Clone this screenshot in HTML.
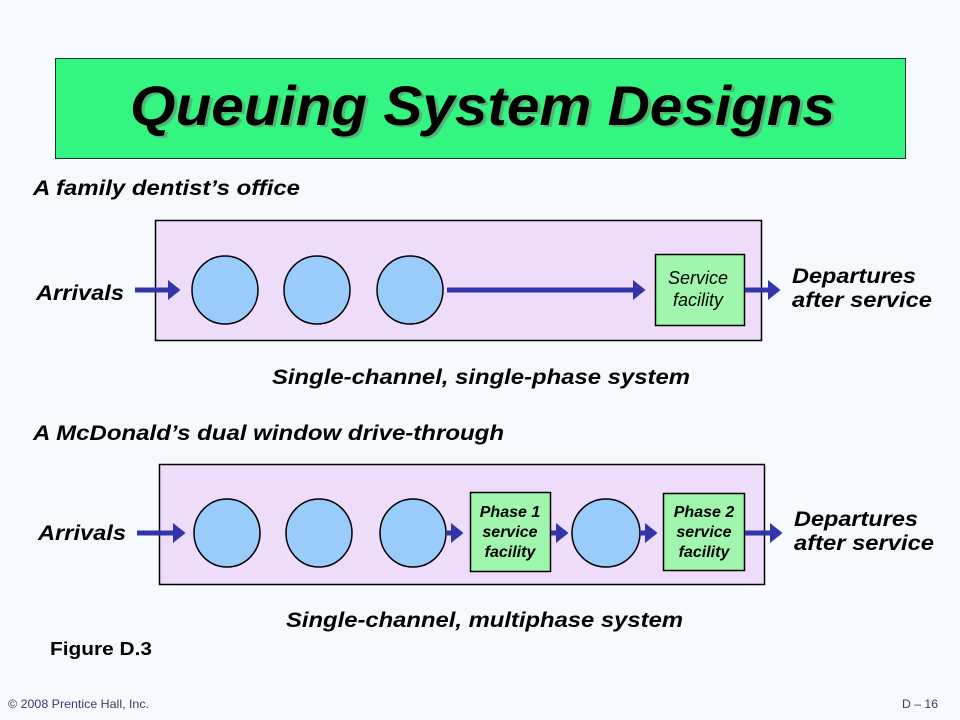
<!DOCTYPE html>
<html><head><meta charset="utf-8"><style>
html,body{margin:0;padding:0;background:#f6f9fd;}
svg{display:block;}
text{font-family:"Liberation Sans",Arial,sans-serif;font-weight:bold;font-style:italic;}
text.n{font-weight:normal;}
text.f{font-weight:normal;font-style:normal;}
</style></head><body>
<svg width="960" height="720" viewBox="0 0 960 720" xmlns="http://www.w3.org/2000/svg">
<defs>
<marker id="ah" markerWidth="4" markerHeight="4" refX="2" refY="2" orient="auto" markerUnits="strokeWidth">
<path d="M0,0 L2.5,2 L0,4 z" fill="#3333aa"/></marker>
</defs>
<rect x="0" y="0" width="960" height="720" fill="#f6f9fd"/>
<rect x="55.5" y="58.5" width="850" height="100" fill="#33f581" stroke="#1a3a1a" stroke-width="1"/>
<text x="133" y="127" font-size="56" textLength="705" lengthAdjust="spacingAndGlyphs" fill="#6a8a6a" opacity="0.6">Queuing System Designs</text>
<text x="130" y="125" font-size="56" textLength="705" lengthAdjust="spacingAndGlyphs" fill="#000">Queuing System Designs</text>

<g fill="#000" font-size="21">
<text x="33" y="195" textLength="267" lengthAdjust="spacingAndGlyphs">A family dentist’s office</text>
<text x="36" y="300" textLength="88" lengthAdjust="spacingAndGlyphs">Arrivals</text>
<text x="792" y="283" textLength="124" lengthAdjust="spacingAndGlyphs">Departures</text>
<text x="792" y="307" textLength="140" lengthAdjust="spacingAndGlyphs">after service</text>
<text x="272" y="384" textLength="418" lengthAdjust="spacingAndGlyphs">Single-channel, single-phase system</text>
<text x="33" y="440" textLength="471" lengthAdjust="spacingAndGlyphs">A McDonald’s dual window drive-through</text>
<text x="38" y="540" textLength="88" lengthAdjust="spacingAndGlyphs">Arrivals</text>
<text x="794" y="526" textLength="124" lengthAdjust="spacingAndGlyphs">Departures</text>
<text x="794" y="550" textLength="140" lengthAdjust="spacingAndGlyphs">after service</text>
<text x="286" y="627" textLength="397" lengthAdjust="spacingAndGlyphs">Single-channel, multiphase system</text>
</g>
<text x="50" y="655" font-size="18" style="font-style:normal" textLength="102" lengthAdjust="spacingAndGlyphs" fill="#000">Figure D.3</text>
<text class="n" x="281" y="249" font-size="20" textLength="73" lengthAdjust="spacingAndGlyphs" fill="#000">Queue</text>
<text class="n" x="283" y="493" font-size="20" textLength="73" lengthAdjust="spacingAndGlyphs" fill="#000">Queue</text>

<rect x="155.5" y="220.5" width="606" height="120" fill="#eedcfa" stroke="#000" stroke-width="1.5"/>
<g fill="#99ccfa" stroke="#000" stroke-width="1.5">
<ellipse cx="225" cy="290" rx="33" ry="34"/>
<ellipse cx="317" cy="290" rx="33" ry="34"/>
<ellipse cx="410" cy="290" rx="33" ry="34"/>
</g>
<rect x="655.5" y="254.5" width="89" height="71" fill="#a0f6ac" stroke="#000" stroke-width="1.5"/>
<text class="n" x="698" y="284" font-size="18" text-anchor="middle">Service</text>
<text class="n" x="698" y="306" font-size="18" text-anchor="middle">facility</text>
<g stroke="#3333aa" stroke-width="5" marker-end="url(#ah)">
<line x1="135" y1="290" x2="178" y2="290"/>
<line x1="447" y1="290" x2="643" y2="290"/>
<line x1="745" y1="290" x2="778" y2="290"/>
</g>

<rect x="159.5" y="464.5" width="605" height="120" fill="#eedcfa" stroke="#000" stroke-width="1.5"/>
<g fill="#99ccfa" stroke="#000" stroke-width="1.5">
<ellipse cx="227" cy="533" rx="33" ry="34"/>
<ellipse cx="319" cy="533" rx="33" ry="34"/>
<ellipse cx="413" cy="533" rx="33" ry="34"/>
<ellipse cx="606" cy="533" rx="34" ry="34"/>
</g>
<rect x="470.5" y="492.5" width="80" height="79" fill="#a0f6ac" stroke="#000" stroke-width="1.5"/>
<rect x="663.5" y="493.5" width="81" height="77" fill="#a0f6ac" stroke="#000" stroke-width="1.5"/>
<g font-size="16" text-anchor="middle" fill="#000">
<text x="510" y="517">Phase 1</text>
<text x="510" y="537">service</text>
<text x="510" y="557">facility</text>
<text x="704" y="517">Phase 2</text>
<text x="704" y="537">service</text>
<text x="704" y="557">facility</text>
</g>
<g stroke="#3333aa" stroke-width="5" marker-end="url(#ah)">
<line x1="137" y1="533" x2="183" y2="533"/>
<line x1="447" y1="533" x2="461" y2="533"/>
<line x1="551" y1="533" x2="566" y2="533"/>
<line x1="640" y1="533" x2="655" y2="533"/>
<line x1="745" y1="533" x2="780" y2="533"/>
</g>

<text class="f" x="8" y="708" font-size="12" fill="#3a3a6a" textLength="141" lengthAdjust="spacingAndGlyphs">© 2008 Prentice Hall, Inc.</text>
<text class="f" x="902" y="708" font-size="12" fill="#3a3a6a" textLength="36" lengthAdjust="spacingAndGlyphs">D – 16</text>
</svg>
</body></html>
